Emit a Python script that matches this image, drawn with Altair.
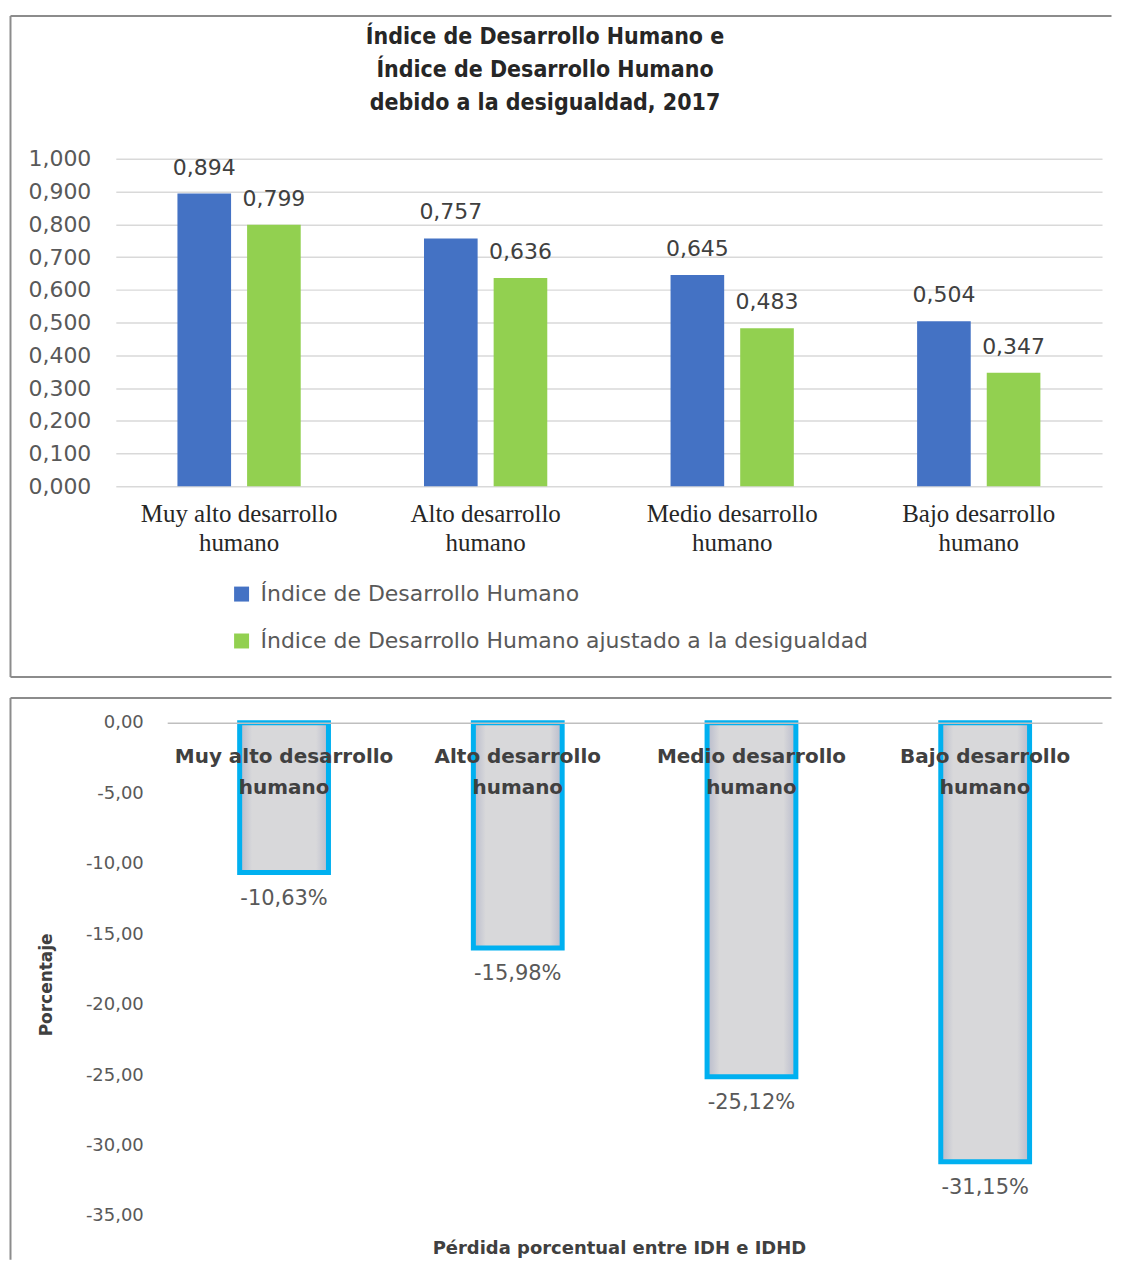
import altair as alt
import pandas as pd

# ---------------- data ----------------
categories = ["Muy alto desarrollo humano", "Alto desarrollo humano",
              "Medio desarrollo humano", "Bajo desarrollo humano"]
series = ["Índice de Desarrollo Humano",
          "Índice de Desarrollo Humano ajustado a la desigualdad"]
idh = [0.894, 0.757, 0.645, 0.504]
idhd = [0.799, 0.636, 0.483, 0.347]
perdida = [-10.63, -15.98, -25.12, -31.15]
top_ticks = [0.0, 0.1, 0.2, 0.3, 0.4, 0.5, 0.6, 0.7, 0.8, 0.9, 1.0]
bottom_ticks = [0, -5, -10, -15, -20, -25, -30, -35]
top_title = ["Índice de Desarrollo Humano e", "Índice de Desarrollo Humano",
             "debido a la desigualdad, 2017"]
bottom_title = "Pérdida porcentual entre IDH e IDHD"
y_title_bottom = "Porcentaje"
colors = ["#4472C4", "#92D050"]

df_top = pd.DataFrame({
    "categoria": categories * 2,
    "serie": [series[0]] * len(categories) + [series[1]] * len(categories),
    "valor": idh + idhd,
})
df_bot = pd.DataFrame({"categoria": categories, "perdida": perdida})

FRAME = "#8C8C8C"
split_expr = "[replace(datum.label, ' humano', ''), 'humano']"


def frame_layers(x0, x1, y0, y1, bottom=True):
    d = alt.Data(values=[{"f": 1}])
    layers = [
        alt.Chart(d).mark_rule(color=FRAME, strokeWidth=2).encode(
            x=alt.value(x0), x2=alt.value(x1), y=alt.value(y0)),
        alt.Chart(d).mark_rule(color=FRAME, strokeWidth=2).encode(
            x=alt.value(x0), y=alt.value(y0), y2=alt.value(y1)),
    ]
    if bottom:
        layers.append(alt.Chart(d).mark_rule(color=FRAME, strokeWidth=2).encode(
            x=alt.value(x0), x2=alt.value(x1), y=alt.value(y1)))
    return layers


# ---------------- top chart ----------------
TW, TH = 988, 328
x_top = alt.X("categoria:N", sort=categories, title=None,
              scale=alt.Scale(paddingInner=0.5, paddingOuter=0.25),
              axis=alt.Axis(labelExpr=split_expr, labelAngle=0,
                            labelFont="Liberation Serif", labelFontSize=25,
                            labelColor="#262626", labelLineHeight=29,
                            labelPadding=15, labelLimit=400,
                            domain=False, ticks=False, grid=False))
y_top = alt.Y("valor:Q", title=None,
              scale=alt.Scale(domain=[0, 1], nice=False),
              axis=alt.Axis(values=top_ticks,
                            labelExpr="replace(format(datum.value, '.3f'), '.', ',')",
                            labelFont="DejaVu Sans", labelFontSize=22,
                            labelColor="#595959", labelPadding=25,
                            domain=False, ticks=False, grid=True,
                            gridColor="#D9D9D9", gridWidth=1.5))
xoff = alt.XOffset("serie:N", sort=series,
                   scale=alt.Scale(paddingInner=0.23, paddingOuter=0))
color = alt.Color("serie:N", sort=series,
                  scale=alt.Scale(domain=series, range=colors),
                  legend=alt.Legend(title=None, orient="none", legendX=115,
                                    legendY=425, direction="vertical",
                                    symbolType="square", symbolSize=225,
                                    symbolStrokeWidth=0,
                                    labelFont="DejaVu Sans", labelFontSize=22,
                                    labelColor="#595959", labelLimit=800,
                                    labelOffset=8, rowPadding=25))

bars_top = alt.Chart(df_top).mark_bar().encode(x=x_top, y=y_top, xOffset=xoff, color=color)
labels_top = alt.Chart(df_top).transform_calculate(
    lbl="replace(format(datum.valor, '.3f'), '.', ',')"
).mark_text(dy=-26, baseline="middle", font="DejaVu Sans", fontSize=22,
            color="#404040").encode(x=x_top, y=y_top, xOffset=xoff, text="lbl:N")

top = alt.layer(bars_top, labels_top,
                *frame_layers(-105.5, 997.5, -143, 519)).properties(
    width=TW, height=TH,
    title=alt.TitleParams(text=top_title, font="DejaVu Sans Condensed",
                          fontSize=23, fontWeight="bold", color="#262626",
                          lineHeight=33, offset=-100, dx=-64, anchor="middle"))

# ---------------- bottom chart ----------------
BW, BH = 988, 494
SHIFT = 51.5
x_bot = alt.X("categoria:N", sort=categories, title=None,
              scale=alt.Scale(paddingInner=0.62, paddingOuter=0.31,
                              range=[SHIFT, BW]),
              axis=alt.Axis(orient="bottom", offset=-BH, zindex=1,
                            labelExpr=split_expr, labelAngle=0,
                            labelFont="DejaVu Sans", labelFontWeight="bold",
                            labelFontSize=20, labelColor="#404040",
                            labelLineHeight=31, labelPadding=24, labelLimit=400,
                            domain=True, domainColor="#BFBFBF", domainWidth=1.5,
                            ticks=False, grid=False))
y_bot = alt.Y("perdida:Q", title=y_title_bottom,
              scale=alt.Scale(domain=[-35, 0], nice=False),
              axis=alt.Axis(values=bottom_ticks, offset=-SHIFT,
                            labelExpr="replace(replace(format(datum.value, '.2f'), '.', ','), '\u2212', '-')",
                            labelFont="DejaVu Sans", labelFontSize=18,
                            labelColor="#595959", labelPadding=24,
                            domain=False, ticks=False, grid=False,
                            titleFont="DejaVu Sans", titleFontSize=17,
                            titleFontWeight="bold", titleColor="#404040",
                            titlePadding=30, titleY=262))

grad = alt.Gradient(gradient="linear",
                    stops=[alt.GradientStop(color="#B7BACB", offset=0),
                           alt.GradientStop(color="#D8D8DA", offset=0.14),
                           alt.GradientStop(color="#D8D8DA", offset=0.86),
                           alt.GradientStop(color="#B7BACB", offset=1)],
                    x1=0, x2=1, y1=0, y2=0)
bars_bot = alt.Chart(df_bot).mark_bar(fill=grad, stroke="#00B0F0", strokeWidth=5,
                                      strokeJoin="miter").encode(x=x_bot, y=y_bot)
labels_bot = alt.Chart(df_bot).transform_calculate(
    lbl="replace(replace(format(datum.perdida, '.2f'), '.', ','), '\u2212', '-') + '%'"
).mark_text(dy=26, baseline="middle", font="DejaVu Sans", fontSize=21,
            color="#595959").encode(x=x_bot, y=y_bot, text="lbl:N")

bottom = alt.layer(bars_bot, labels_bot,
                   *frame_layers(-105.5, 997.5, -25, 538, bottom=False)).properties(
    width=BW, height=BH,
    title=alt.TitleParams(text=bottom_title, orient="bottom", font="DejaVu Sans",
                          fontSize=18, fontWeight="bold", color="#404040",
                          offset=-21, dx=10.5, anchor="middle"))

chart = alt.vconcat(top, bottom, spacing=19).properties(
    padding={"left": 1, "top": 6, "right": 0, "bottom": 0}
).configure_view(strokeWidth=0)

chart.save("out.html", embed_options={"renderer": "svg", "actions": False})
